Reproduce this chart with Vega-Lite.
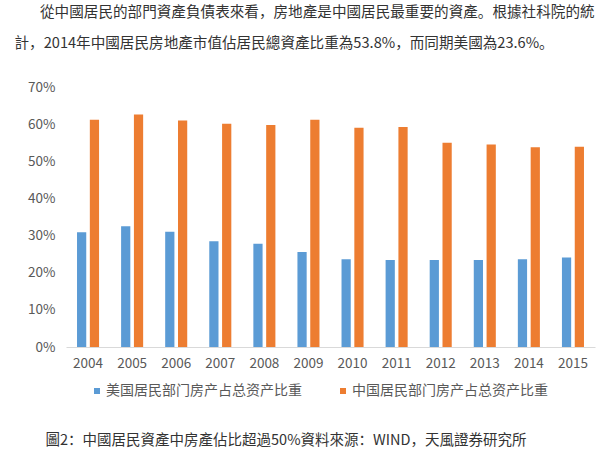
{
  "$schema": "https://vega.github.io/schema/vega-lite/v6.json",
  "width": 529,
  "height": 260,
  "autosize": {"type": "none"},
  "padding": {"left": 66, "top": 87, "right": 5, "bottom": 111},
  "background": "white",
  "title": {
    "text": "從中國居民的部門資產負債表來看，房地產是中國居民最重要的資產。根據社科院的統",
    "anchor": "start",
    "frame": "group",
    "dx": -26,
    "offset": 7,
    "baseline": "middle",
    "fontSize": 14.6,
    "fontWeight": "normal",
    "color": "#333333",
    "font": "Noto Sans CJK SC"
  },
  "data": {
    "values": [
      {"year": "2004", "series": "美国居民部门房产占总资产比重", "value": 30.9},
      {"year": "2005", "series": "美国居民部门房产占总资产比重", "value": 32.5},
      {"year": "2006", "series": "美国居民部门房产占总资产比重", "value": 31.0},
      {"year": "2007", "series": "美国居民部门房产占总资产比重", "value": 28.5},
      {"year": "2008", "series": "美国居民部门房产占总资产比重", "value": 27.8},
      {"year": "2009", "series": "美国居民部门房产占总资产比重", "value": 25.6},
      {"year": "2010", "series": "美国居民部门房产占总资产比重", "value": 23.6},
      {"year": "2011", "series": "美国居民部门房产占总资产比重", "value": 23.4},
      {"year": "2012", "series": "美国居民部门房产占总资产比重", "value": 23.4},
      {"year": "2013", "series": "美国居民部门房产占总资产比重", "value": 23.4},
      {"year": "2014", "series": "美国居民部门房产占总资产比重", "value": 23.6},
      {"year": "2015", "series": "美国居民部门房产占总资产比重", "value": 24.1},
      {"year": "2004", "series": "中国居民部门房产占总资产比重", "value": 61.2},
      {"year": "2005", "series": "中国居民部门房产占总资产比重", "value": 62.6},
      {"year": "2006", "series": "中国居民部门房产占总资产比重", "value": 61.0},
      {"year": "2007", "series": "中国居民部门房产占总资产比重", "value": 60.1},
      {"year": "2008", "series": "中国居民部门房产占总资产比重", "value": 59.8},
      {"year": "2009", "series": "中国居民部门房产占总资产比重", "value": 61.2},
      {"year": "2010", "series": "中国居民部门房产占总资产比重", "value": 59.0},
      {"year": "2011", "series": "中国居民部门房产占总资产比重", "value": 59.2},
      {"year": "2012", "series": "中国居民部门房产占总资产比重", "value": 55.0},
      {"year": "2013", "series": "中国居民部门房产占总资产比重", "value": 54.5},
      {"year": "2014", "series": "中国居民部门房产占总资产比重", "value": 53.8},
      {"year": "2015", "series": "中国居民部门房产占总资产比重", "value": 53.9}
    ]
  },
  "mark": {"type": "bar"},
  "encoding": {
    "x": {
      "field": "year",
      "type": "nominal",
      "scale": {"paddingInner": 0.5, "paddingOuter": 0.25},
      "axis": {
        "title": "圖2：中國居民資產中房產佔比超過50%資料來源：WIND，天風證券研究所",
        "titleAnchor": "start",
        "titleAlign": "left",
        "titleBaseline": "middle",
        "titleX": -21,
        "titleY": 93,
        "titleFontSize": 14.5,
        "titleFontWeight": "normal",
        "titleColor": "#333333",
        "titleFont": "Noto Sans CJK SC",
        "labelAngle": 0,
        "labelFontSize": 13.5,
        "labelColor": "#595959",
        "labelFont": "Noto Sans CJK SC",
        "labelPadding": 9,
        "ticks": false,
        "domainColor": "#d9d9d9",
        "domainWidth": 1
      }
    },
    "xOffset": {
      "field": "series",
      "type": "nominal",
      "sort": ["美国居民部门房产占总资产比重", "中国居民部门房产占总资产比重"],
      "scale": {"paddingInner": 0.28}
    },
    "y": {
      "field": "value",
      "type": "quantitative",
      "scale": {"domain": [0, 70], "nice": false},
      "axis": {
        "title": "計，2014年中國居民房地產市值佔居民總資產比重為53.8%，而同期美國為23.6%。",
        "titleAngle": 0,
        "titleAnchor": "start",
        "titleAlign": "left",
        "titleBaseline": "middle",
        "titleX": -52,
        "titleY": -44,
        "titleFontSize": 14.6,
        "titleFontWeight": "normal",
        "titleColor": "#333333",
        "titleFont": "Noto Sans CJK SC",
        "values": [0, 10, 20, 30, 40, 50, 60, 70],
        "labelExpr": "datum.value + '%'",
        "grid": false,
        "domain": false,
        "ticks": false,
        "labelPadding": 11,
        "labelFontSize": 13.5,
        "labelColor": "#595959",
        "labelFont": "Noto Sans CJK SC"
      }
    },
    "color": {
      "field": "series",
      "type": "nominal",
      "sort": ["美国居民部门房产占总资产比重", "中国居民部门房产占总资产比重"],
      "scale": {"range": ["#5b9bd5", "#ed7d31"]},
      "legend": {
        "title": null,
        "orient": "none",
        "direction": "horizontal",
        "legendX": 24,
        "legendY": 297,
        "symbolType": "square",
        "symbolSize": 36,
        "symbolStrokeWidth": 0,
        "labelFontSize": 14,
        "labelColor": "#595959",
        "labelFont": "Noto Sans CJK SC",
        "labelLimit": 300,
        "columnPadding": 34,
        "labelOffset": 2
      }
    }
  },
  "config": {"view": {"stroke": null}}
}
